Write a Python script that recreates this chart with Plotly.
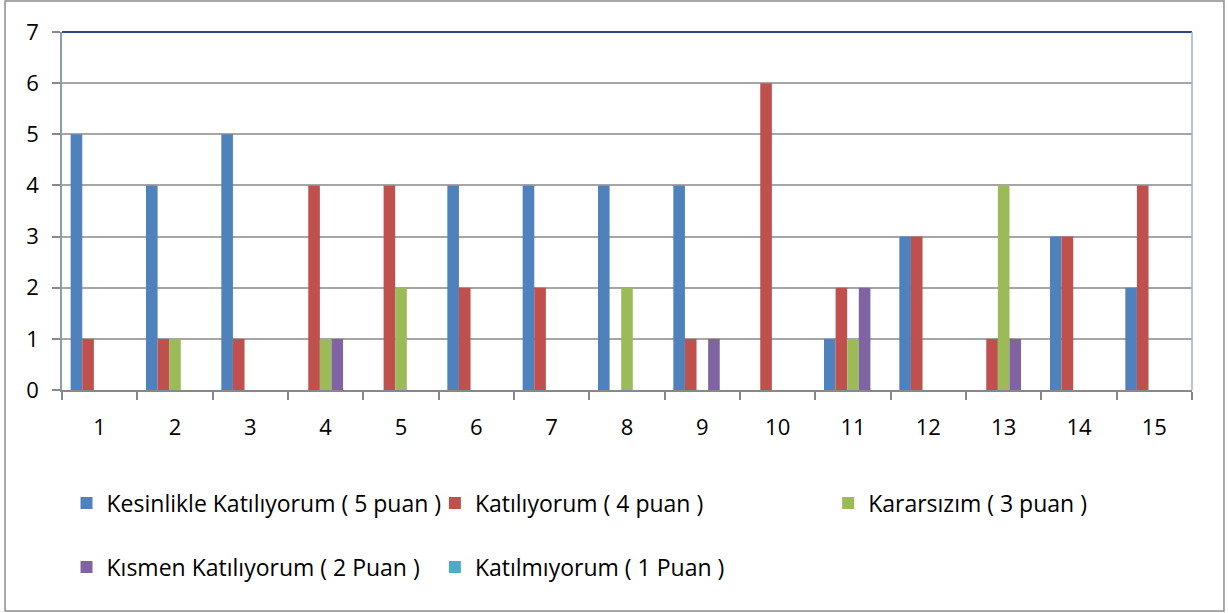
import plotly.graph_objects as go

categories = [str(i) for i in range(1, 16)]
series_names = [
    "Kesinlikle Katılıyorum ( 5 puan )",
    "Katılıyorum ( 4 puan )",
    "Kararsızım ( 3 puan )",
    "Kısmen Katılıyorum ( 2 Puan )",
    "Katılmıyorum ( 1 Puan )",
]
kesinlikle = [5, 4, 5, 0, 0, 4, 4, 4, 4, 0, 1, 3, 0, 3, 2]
katiliyorum = [1, 1, 1, 4, 4, 2, 2, 0, 1, 6, 2, 3, 1, 3, 4]
kararsizim = [0, 1, 0, 1, 2, 0, 0, 2, 0, 0, 1, 0, 4, 0, 0]
kismen = [0, 0, 0, 1, 0, 0, 0, 0, 1, 0, 2, 0, 1, 0, 0]
katilmiyorum = [0, 0, 0, 0, 0, 0, 0, 0, 0, 0, 0, 0, 0, 0, 0]
y_ticks = [0, 1, 2, 3, 4, 5, 6, 7]

colors = ["#4F81BD", "#C0504D", "#9BBB59", "#8064A2", "#4BACC6"]
values = [kesinlikle, katiliyorum, kararsizim, kismen, katilmiyorum]
legend_ids = ["legend", "legend2", "legend3", "legend4", "legend5"]
legend_pos = [(0.004, -0.3156), (0.330, -0.3156), (0.678, -0.3156),
              (0.004, -0.4944), (0.330, -0.4944)]

fig = go.Figure()
for name, vals, c, lg in zip(series_names, values, colors, legend_ids):
    fig.add_trace(go.Bar(
        x=categories, y=vals, name=name, legend=lg, showlegend=True,
        marker=dict(color=c, line=dict(width=0)),
    ))

font = "'Open Sans', Lato, sans-serif"
legend_layouts = {}
for lg, (lx, ly) in zip(legend_ids, legend_pos):
    legend_layouts[lg] = dict(
        orientation="h", x=lx, y=ly, xanchor="left", yanchor="middle",
        itemwidth=30, font=dict(size=23, family=font, color="#000000"),
        bgcolor="rgba(0,0,0,0)", visible=True,
    )

fig.update_layout(
    width=1228, height=613,
    showlegend=True,
    margin=dict(l=62, r=36, t=32, b=223, autoexpand=False),
    paper_bgcolor="white", plot_bgcolor="white",
    barmode="group", bargap=0.23, bargroupgap=0,
    font=dict(family=font, size=22, color="#000000"),
    xaxis=dict(type="category", tickson="boundaries", ticks="outside", ticklen=8,
               tickcolor="#888888", tickwidth=1.5, showline=True, linecolor="#888888",
               linewidth=1.5, showgrid=False, ticklabelstandoff=17,
               tickfont=dict(size=22, family=font)),
    yaxis=dict(range=[0, 7], tickvals=y_ticks, ticks="outside", ticklen=8,
               tickcolor="#888888", tickwidth=1.5, showline=True, linecolor="#8A9AB5",
               linewidth=1.5, showgrid=True, gridcolor="#A6A6A6", gridwidth=1.5,
               ticklabelstandoff=9, zeroline=False,
               tickfont=dict(size=22, family=font)),
    shapes=[
        dict(type="line", xref="paper", yref="paper", x0=0, x1=1, y0=1, y1=1,
             line=dict(color="#2A4A7D", width=2)),
        dict(type="line", xref="paper", yref="paper", x0=1, x1=1, y0=0, y1=1,
             line=dict(color="#9EB0D0", width=1.5)),
        dict(type="rect", xref="paper", yref="paper", x0=-0.0504, x1=1.0283,
             y0=-0.617, y1=1.0866, line=dict(color="#8C8C8C", width=1.5)),
    ],
    **legend_layouts,
)

fig.write_html("out.html", config={"displayModeBar": False},
               post_script="document.body.style.margin='0';")
